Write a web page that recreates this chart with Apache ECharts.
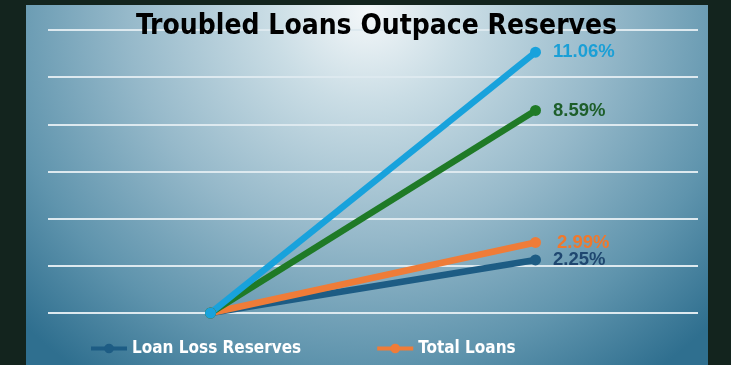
<!DOCTYPE html>
<html>
<head>
<meta charset="utf-8">
<script src="https://cdn.jsdelivr.net/npm/echarts@6/dist/echarts.min.js"></script>
<style>
  html, body { margin: 0; padding: 0; background: #13241e; }
  #panel {
    position: absolute; left: 26px; top: 5px; width: 682px; height: 360px;
    background: radial-gradient(ellipse 70% 125% at 50% 2%, #f3f7f9 0%, #cadde5 20%, #96b9ca 50%, #5f94ad 78%, #2f6f8f 100%);
  }
  #chart { position: absolute; left: 0; top: 0; width: 731px; height: 365px; }
</style>
</head>
<body>
<div id="panel"></div>
<div id="chart"></div>
<script>
const categories = ['', 'Start', '', 'End', ''];
const loanLossReserves = [null, 0, null, 2.25, null];
const totalLoans = [null, 0, null, 2.99, null];
const noncurrentLoans = [null, 0, null, 8.59, null];
const troubledLoans = [null, 0, null, 11.06, null];
const yTicks = [0, 2, 4, 6, 8, 10, 12];

const narrow = '"DejaVu Sans Condensed", "Liberation Sans Narrow", "Roboto", sans-serif';

function mkSeries(name, data, lineColor, labelColor, dist) {
  return {
    name: name,
    type: 'line',
    data: data,
    connectNulls: true,
    symbol: 'circle',
    symbolSize: 11,
    lineStyle: { width: 6.5, color: lineColor },
    itemStyle: { color: lineColor },
    label: {
      show: true,
      position: 'right',
      distance: dist,
      color: labelColor,
      fontFamily: '"Liberation Sans", Arial, sans-serif',
      fontWeight: 'bold',
      fontSize: 18.5,
      formatter: p => p.dataIndex === 3 ? p.value.toFixed(2) + '%' : ''
    },
    emphasis: { disabled: true },
    animation: false
  };
}

const chart = echarts.init(document.getElementById('chart'), null, { renderer: 'canvas' });
chart.setOption({
  backgroundColor: 'transparent',
  animation: false,
  title: {
    text: 'Troubled Loans Outpace Reserves',
    left: 131,
    top: 8,
    textStyle: { fontFamily: narrow, fontWeight: 'bold', fontSize: 28, color: '#000' }
  },
  legend: {
    data: ['Loan Loss Reserves', 'Total Loans'],
    left: 84,
    top: 335,
    itemWidth: 36,
    itemHeight: 12,
    itemGap: 74,
    lineStyle: { width: 4 },
    textStyle: { color: '#fff', fontFamily: narrow, fontWeight: 'bold', fontSize: 17 }
  },
  grid: { left: 48, right: 33, top: 30, bottom: 52, containLabel: false },
  xAxis: {
    type: 'category',
    data: categories,
    boundaryGap: false,
    axisLine: { show: false },
    axisTick: { show: false },
    axisLabel: { show: false },
    splitLine: { show: false }
  },
  yAxis: {
    type: 'value',
    min: yTicks[0],
    max: yTicks[yTicks.length - 1],
    interval: yTicks[1] - yTicks[0],
    axisLine: { show: false },
    axisTick: { show: false },
    axisLabel: { show: false },
    splitLine: { show: true, lineStyle: { color: '#dde9ef', width: 2 } }
  },
  series: [
    mkSeries('Loan Loss Reserves', loanLossReserves, '#1d5c84', '#1f4770', 12),
    mkSeries('Total Loans', totalLoans, '#ef7c38', '#f0782c', 16),
    mkSeries('Noncurrent Loans', noncurrentLoans, '#1f7a26', '#1d5e2a', 12),
    mkSeries('Troubled Loans', troubledLoans, '#18a2dc', '#1a9fd6', 12)
  ]
});
</script>
</body>
</html>
